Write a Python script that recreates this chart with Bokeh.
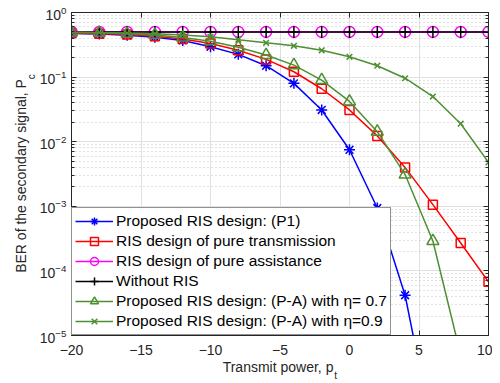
import numpy as np
from bokeh.plotting import figure
from bokeh.models import (LogAxis, LinearAxis, FixedTicker, Legend, LegendItem,
                          Range1d, CustomJSTickFormatter)
from bokeh.embed import file_html
from bokeh.resources import INLINE

# ---- data ----
power_db = [-20, -18, -16, -14, -12, -10, -8, -6, -4, -2, 0, 2, 4, 6, 8, 10]
ber_p1 = [0.475, 0.465, 0.445, 0.415, 0.37, 0.295, 0.225, 0.15, 0.08, 0.031,
          0.0075, 9.4e-4, 4.2e-5, 3e-7, 1e-9, 1e-11]
ber_pure_trans = [0.48, 0.47, 0.455, 0.43, 0.39, 0.33, 0.26, 0.188, 0.121, 0.066,
                  0.031, 0.0123, 0.004, 1.06e-3, 2.7e-4, 6.8e-5]
ber_pure_assist = [0.5] * 16
ber_no_ris = [0.5] * 16
ber_pa_07 = [0.49, 0.485, 0.47, 0.45, 0.41, 0.36, 0.29, 0.22, 0.153, 0.09,
             0.042, 0.0143, 0.0031, 2.9e-4, 5e-6, 1e-8]
ber_pa_09 = [0.495, 0.49, 0.48, 0.47, 0.45, 0.42, 0.38, 0.34, 0.305, 0.26,
             0.206, 0.15, 0.096, 0.05, 0.019, 0.0048]

x_ticks = [-20, -15, -10, -5, 0, 5, 10]
y_ticks = [1e-5, 1e-4, 1e-3, 1e-2, 1e-1, 1e0]
y_minor = [k * 10.0 ** e for e in range(-5, 0) for k in range(2, 10)]

y_label, y_sub = "BER of the secondary signal, P", "c"
x_label, x_sub = "Transmit power, p", "t"

series = [
    ("Proposed RIS design: (P1)", ber_p1, "#0000ff", "asterisk", 11),
    ("RIS design of pure transmission", ber_pure_trans, "#ff0000", "square", 9),
    ("RIS design of pure assistance", ber_pure_assist, "#ff00ff", "circle", 11),
    ("Without RIS", ber_no_ris, "#000000", "cross", 12),
    ("Proposed RIS design: (P-A) with \u03b7= 0.7", ber_pa_07, "#4d8f32", "triangle", 12),
    ("Proposed RIS design: (P-A) with \u03b7=0.9", ber_pa_09, "#4d8f32", "x", 8),
]

FONT = "Liberation Sans"
AX = "#262626"
NB = "\u00a0"

p = figure(width=492, height=383, y_axis_type="log",
           x_range=Range1d(-20, 10), y_range=Range1d(1e-5, 1),
           output_backend="svg", toolbar_location=None,
           min_border_left=71, min_border_right=4, min_border_top=12,
           min_border_bottom=47)

p.background_fill_color = "white"
p.border_fill_color = "white"
p.outline_line_color = AX
p.outline_line_width = 1

xt = FixedTicker(ticks=x_ticks, minor_ticks=[])
yt = FixedTicker(ticks=y_ticks, minor_ticks=y_minor)

for ax in p.xaxis:
    ax.ticker = xt
for ax in p.yaxis:
    ax.ticker = yt

def style_axis(ax):
    ax.axis_line_color = AX
    ax.major_tick_line_color = AX
    ax.minor_tick_line_color = AX
    ax.major_tick_in = 5
    ax.major_tick_out = 0
    ax.minor_tick_in = 3
    ax.minor_tick_out = 0
    ax.major_label_text_font = FONT
    ax.major_label_text_color = AX
    ax.major_label_text_font_size = "14px"

style_axis(p.xaxis[0])
style_axis(p.yaxis[0])
p.xaxis[0].major_label_standoff = 9
p.yaxis[0].major_label_standoff = 5

blank = CustomJSTickFormatter(code="return ''")
top = LinearAxis(ticker=xt, formatter=blank)
style_axis(top)
top.major_label_standoff = 0
right = LogAxis(ticker=yt, formatter=blank)
style_axis(right)
right.major_label_standoff = 0
p.add_layout(top, "above")
p.add_layout(right, "right")


def label_axis(kind, text, size, standoff):
    """An axis that only carries a label."""
    return kind(ticker=FixedTicker(ticks=[]), formatter=blank,
                axis_label=text, axis_label_standoff=standoff,
                axis_label_text_font=FONT, axis_label_text_font_size=size,
                axis_label_text_font_style="normal", axis_label_text_color=AX,
                axis_line_color=None, major_tick_line_color=None,
                minor_tick_line_color=None, major_label_standoff=0)

# y label with subscript: both strings centred on the same point, padded
p.add_layout(label_axis(LogAxis, NB * 70 + y_sub, "10px", 0), "left")
p.add_layout(label_axis(LogAxis, y_label + NB, "14px", -6), "left")
# x label with subscript
p.add_layout(label_axis(LinearAxis, x_label + NB, "14px", 1), "below")
p.add_layout(label_axis(LinearAxis, NB * 40 + x_sub, "10px", -8), "below")

p.xgrid.grid_line_color = "#e0e0e0"
p.ygrid.grid_line_color = "#e0e0e0"
p.ygrid.minor_grid_line_color = "#c4c4c4"
p.ygrid.minor_grid_line_dash = "1 3"

items = []
for name, ys, col, mk, sz in series:
    ln = p.line(power_db, ys, line_color=col, line_width=1.5)
    sc = p.scatter(power_db, ys, marker=mk, size=sz, line_color=col,
                   fill_color=None, line_width=1.5)
    items.append(LegendItem(label=name, renderers=[ln, sc]))

legend = Legend(items=items, location="bottom_left", margin=0, padding=3,
                spacing=0, label_height=20, glyph_height=20, glyph_width=38,
                label_standoff=3, label_text_font=FONT,
                label_text_font_size="15.5px", label_text_color="black",
                border_line_color=AX, border_line_width=1,
                background_fill_color="white", background_fill_alpha=1.0)
p.add_layout(legend)

open("out.html", "w").write(file_html(p, INLINE))
